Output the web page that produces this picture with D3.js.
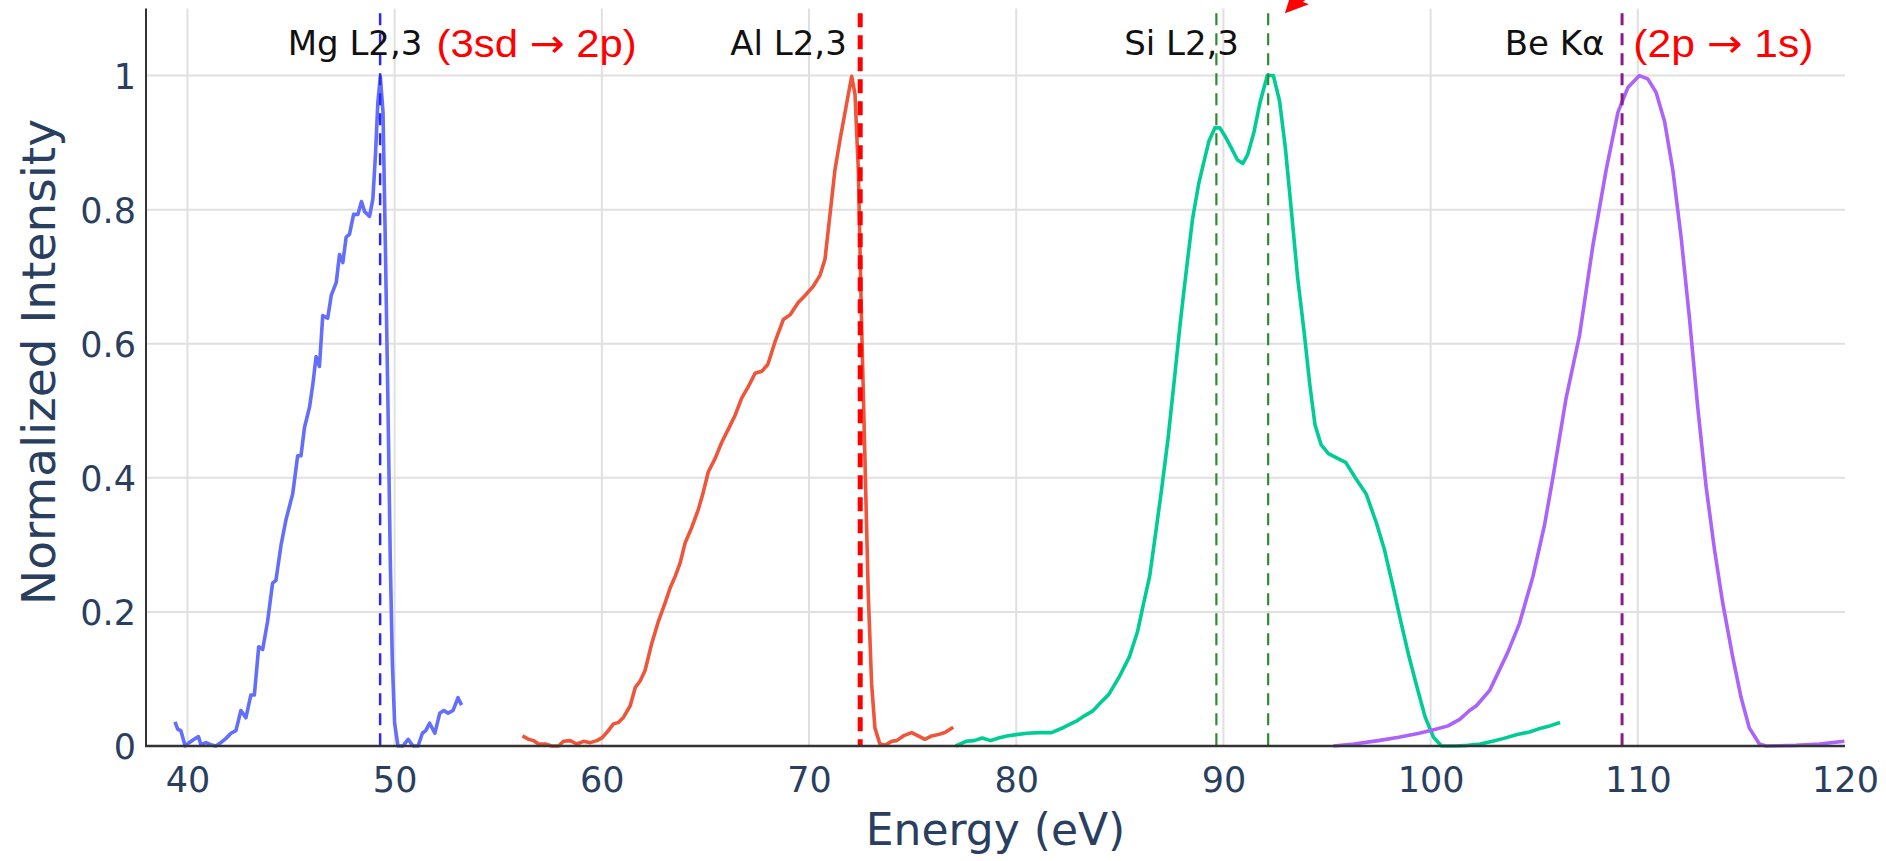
<!DOCTYPE html>
<html>
<head>
<meta charset="utf-8">
<script src="https://cdn.jsdelivr.net/npm/d3@7"></script>
<style>
  html, body { margin: 0; padding: 0; background: #ffffff; }
  svg { display: block; }
</style>
</head>
<body>
<svg id="chart" width="1886" height="861"></svg>
<script>
// ---------------- DATA ----------------
const xTicks = [40, 50, 60, 70, 80, 90, 100, 110, 120];
const yTicks = [0, 0.2, 0.4, 0.6, 0.8, 1];
const yTickLabels = ["0", "0.2", "0.4", "0.6", "0.8", "1"];

const mgX = [39.40,39.53,39.68,39.89,40.08,40.32,40.53,40.65,40.89,41.13,41.37,41.61,41.85,42.10,42.34,42.58,42.82,43.06,43.23,43.44,43.63,43.87,44.11,44.27,44.52,44.76,45.08,45.32,45.48,45.65,45.89,46.05,46.21,46.37,46.53,46.77,46.94,47.18,47.34,47.50,47.66,47.82,48.02,48.23,48.40,48.55,48.79,48.95,49.08,49.19,49.31,49.44,49.56,49.68,49.79,49.89,50.00,50.16,50.40,50.65,50.89,51.13,51.34,51.50,51.69,51.94,52.18,52.37,52.58,52.82,53.06,53.23];
const mgY = [0.036,0.025,0.023,0.000,0.005,0.010,0.014,0.002,0.005,0.002,0.000,0.005,0.011,0.019,0.023,0.053,0.042,0.076,0.076,0.148,0.144,0.186,0.243,0.247,0.300,0.338,0.376,0.433,0.433,0.475,0.505,0.539,0.581,0.566,0.642,0.638,0.672,0.691,0.733,0.721,0.759,0.763,0.793,0.793,0.812,0.797,0.790,0.816,0.885,0.960,0.998,0.945,0.733,0.505,0.277,0.125,0.034,0.000,0.000,0.010,0.000,0.000,0.019,0.023,0.034,0.019,0.049,0.053,0.049,0.053,0.072,0.061];

const alX = [56.17,56.46,56.70,56.95,57.27,57.59,57.91,58.15,58.47,58.79,59.12,59.44,59.76,60.00,60.24,60.56,60.80,61.05,61.37,61.61,61.85,62.09,62.41,62.73,63.05,63.30,63.54,63.78,64.02,64.34,64.66,64.90,65.14,65.47,65.79,66.11,66.43,66.75,67.07,67.40,67.72,68.01,68.36,68.76,69.08,69.49,69.81,70.21,70.53,70.77,71.01,71.25,71.50,71.82,72.06,72.22,72.38,72.54,72.70,72.86,73.02,73.18,73.42,73.67,73.99,74.23,74.55,74.95,75.27,75.59,75.92,76.24,76.56,76.96];
const alY = [0.015,0.010,0.008,0.003,0.003,0.000,0.000,0.007,0.008,0.003,0.007,0.005,0.008,0.012,0.020,0.033,0.035,0.043,0.060,0.087,0.097,0.113,0.153,0.186,0.213,0.236,0.253,0.273,0.303,0.326,0.353,0.379,0.409,0.429,0.453,0.473,0.493,0.519,0.536,0.556,0.559,0.569,0.603,0.636,0.643,0.662,0.672,0.686,0.702,0.726,0.792,0.859,0.905,0.959,0.999,0.972,0.859,0.626,0.426,0.226,0.093,0.027,0.003,0.001,0.007,0.008,0.015,0.020,0.015,0.010,0.015,0.017,0.020,0.028];

const siX = [77.08,77.58,77.97,78.36,78.76,79.15,79.55,80.00,80.53,81.12,81.71,82.31,82.90,83.29,83.68,84.08,84.47,84.97,85.46,85.85,86.15,86.44,86.74,87.03,87.33,87.63,87.92,88.22,88.51,88.81,89.04,89.30,89.59,89.83,90.09,90.38,90.68,90.94,91.17,91.47,91.76,92.12,92.41,92.71,92.99,93.30,93.58,93.89,94.17,94.42,94.72,95.07,95.51,95.90,96.39,96.89,97.38,97.77,98.17,98.56,98.96,99.35,99.74,100.14,100.53,101.20,101.80,102.40,102.99,103.49,104.18,104.77,105.36,105.75,106.25];
const siY = [0.000,0.007,0.008,0.012,0.008,0.012,0.015,0.017,0.019,0.020,0.020,0.028,0.037,0.045,0.052,0.065,0.077,0.103,0.133,0.170,0.213,0.253,0.320,0.386,0.459,0.546,0.632,0.712,0.786,0.839,0.869,0.902,0.922,0.922,0.909,0.892,0.874,0.869,0.882,0.915,0.959,1.000,1.000,0.962,0.892,0.792,0.699,0.619,0.539,0.479,0.449,0.436,0.429,0.423,0.399,0.376,0.333,0.293,0.240,0.186,0.133,0.087,0.043,0.013,0.000,0.000,0.001,0.003,0.007,0.011,0.017,0.021,0.027,0.030,0.035];

const beX = [95.31,96.30,97.48,98.46,99.45,100.24,100.84,101.42,101.88,102.21,102.85,103.73,104.29,104.94,105.50,105.90,106.54,107.19,107.83,108.47,109.04,109.52,110.08,110.48,110.88,111.29,111.69,112.09,112.49,112.89,113.30,113.70,114.10,114.58,114.98,115.38,115.87,116.19,117.64,118.76,119.97];
const beY = [0.000,0.003,0.008,0.013,0.019,0.025,0.030,0.040,0.053,0.060,0.083,0.140,0.183,0.253,0.330,0.400,0.519,0.613,0.746,0.859,0.945,0.982,1.000,0.995,0.975,0.932,0.859,0.759,0.639,0.506,0.386,0.293,0.213,0.133,0.073,0.027,0.003,0.000,0.001,0.003,0.007];

const seriesNames = ["Mg", "Al", "Si", "Be"];
const seriesColors = ["#636efa", "#EF553B", "#00cc96", "#ab63fa"];

// reference (emission line) positions, eV
const refLineX = [49.30, 72.47, 89.66, 92.16, 109.24];
const refLineColors = ["#2b2bf0", "#ff0000", "#2e8b2e", "#2e8b2e", "#8b1a8b"];
const refLineWidths = [2.5, 5, 2.2, 2.2, 3];

// labels above the peaks
const labelText = ["Mg L2,3", "Al L2,3", "Si L2,3", "Be K\u03b1"];
const labelX = [48.09, 69.01, 87.98, 105.98];
const noteParts = [["(3sd ", "\u2192", " 2p)"], ["(2p ", "\u2192", " 1s)"]];
const noteX = [56.85, 114.13];
const noteWidth = [200, 180];
const labelY = 1.031;

// ---------------- CHART ----------------
const W = 1886, H = 861;
const svg = d3.select("#chart");
svg.append("rect").attr("width", W).attr("height", H).attr("fill", "#ffffff");

const x = d3.scaleLinear().domain([38.0, 120]).range([146, 1845]);
const y = d3.scaleLinear().domain([0, 1.1]).range([746, 8.5]);

const tickFont = "Verdana, 'DejaVu Sans', sans-serif";
const axisColor = "#2a3f5f";

// grid
const grid = svg.append("g");
grid.selectAll("line.vg").data(xTicks.filter(d => d < 120)).join("line")
  .attr("x1", d => x(d)).attr("x2", d => x(d))
  .attr("y1", y(1.1)).attr("y2", y(0))
  .attr("stroke", "#e0e0e0").attr("stroke-width", 2);
grid.selectAll("line.hg").data(yTicks.filter(d => d > 0)).join("line")
  .attr("x1", x(38)).attr("x2", x(120))
  .attr("y1", d => y(d)).attr("y2", d => y(d))
  .attr("stroke", "#e0e0e0").attr("stroke-width", 2);

// curves
const seriesData = [
  d3.zip(mgX, mgY), d3.zip(alX, alY), d3.zip(siX, siY), d3.zip(beX, beY)
];
const line = d3.line().x(d => x(d[0])).y(d => y(d[1]));
svg.append("g").selectAll("path").data(seriesData).join("path")
  .attr("d", line)
  .attr("fill", "none")
  .attr("stroke", (d, i) => seriesColors[i])
  .attr("stroke-width", 3.6)
  .attr("stroke-linejoin", "round");

// reference dashed lines
svg.append("g").selectAll("line").data(refLineX).join("line")
  .attr("x1", d => x(d)).attr("x2", d => x(d))
  .attr("y1", y(1.093)).attr("y2", y(0))
  .attr("stroke", (d, i) => refLineColors[i])
  .attr("stroke-width", (d, i) => refLineWidths[i])
  .attr("stroke-dasharray", (d, i) => i === 1 ? "14,8" : "12,8");

// axes lines
svg.append("line").attr("x1", x(38)).attr("x2", x(38))
  .attr("y1", y(1.1)).attr("y2", y(0) + 1)
  .attr("stroke", "#333").attr("stroke-width", 2);
svg.append("line").attr("x1", x(38) - 1).attr("x2", x(120))
  .attr("y1", y(0)).attr("y2", y(0))
  .attr("stroke", "#333").attr("stroke-width", 2.5);

// x tick labels
const xAxis = d3.axisBottom(x).tickValues(xTicks).tickSize(0).tickPadding(0).tickFormat(d3.format("d"));
const gx = svg.append("g").attr("transform", `translate(0,${y(0)})`).call(xAxis);
gx.select(".domain").remove();
gx.selectAll("text").attr("y", 46).attr("dy", null)
  .attr("font-family", tickFont).attr("font-size", 35).attr("fill", axisColor);

// y tick labels
const yAxis = d3.axisLeft(y).tickValues(yTicks).tickSize(0).tickPadding(0)
  .tickFormat((d, i) => yTickLabels[i]);
const gy = svg.append("g").attr("transform", `translate(${x(38) - 10},0)`).call(yAxis);
gy.select(".domain").remove();
gy.selectAll("text").attr("x", 0).attr("dy", "0.36em")
  .attr("font-family", tickFont).attr("font-size", 35).attr("fill", axisColor);

// axis titles
svg.append("text")
  .attr("x", (x(38) + x(120)) / 2).attr("y", 845)
  .attr("text-anchor", "middle")
  .attr("font-family", tickFont).attr("font-size", 44).attr("fill", axisColor)
  .text("Energy (eV)");
svg.append("text")
  .attr("transform", `translate(55,362) rotate(-90)`)
  .attr("text-anchor", "middle")
  .attr("font-family", tickFont).attr("font-size", 47).attr("fill", axisColor)
  .text("Normalized Intensity");

// peak labels
svg.append("g").selectAll("text").data(labelText).join("text")
  .attr("x", (d, i) => x(labelX[i])).attr("y", y(labelY))
  .attr("text-anchor", "middle")
  .attr("font-family", tickFont).attr("font-size", 34).attr("fill", "#111")
  .text(d => d);

// red notes
const notes = svg.append("g").selectAll("text").data(noteParts).join("text")
  .attr("x", (d, i) => x(noteX[i]) - noteWidth[i] / 2).attr("y", y(labelY) + 2)
  .attr("textLength", (d, i) => noteWidth[i])
  .attr("lengthAdjust", "spacingAndGlyphs")
  .attr("font-family", "'Liberation Sans', Arial, sans-serif").attr("font-size", 39)
  .attr("fill", "#ff0000");
notes.selectAll("tspan").data(d => d).join("tspan")
  .attr("font-family", (d, j) => j === 1 ? "'DejaVu Sans', sans-serif" : null)
  .text(d => d);

// red arrow at the top (partly outside the picture)
const ax = x(92.97), ay = y(1.093);
svg.append("path")
  .attr("d", `M${ax},${ay} L${ax + 5},${ay - 16} L${ax + 24},${ay - 9} Z`)
  .attr("fill", "#ff0000");
svg.append("line")
  .attr("x1", ax + 12).attr("y1", ay - 10).attr("x2", ax + 45).attr("y2", ay - 35)
  .attr("stroke", "#ff0000").attr("stroke-width", 5);
</script>
</body>
</html>
